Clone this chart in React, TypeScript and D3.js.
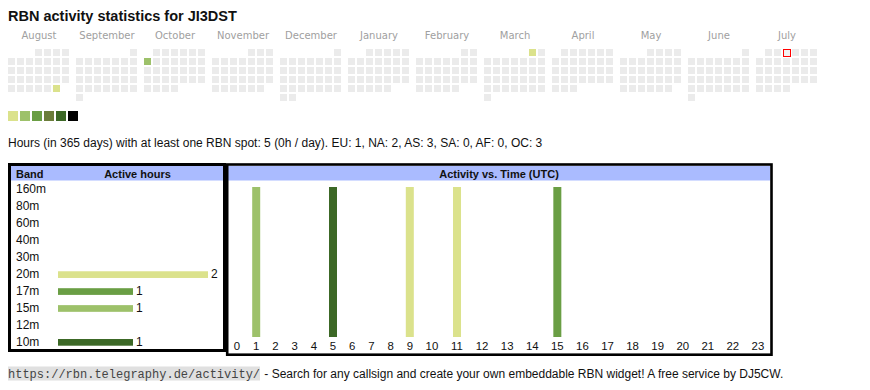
import React from "react";
import * as d3 from "d3";

const TITLE = "RBN activity statistics for JI3DST";
const MONTH_LABELS = ["August", "September", "October", "November", "December", "January", "February", "March", "April", "May", "June", "July"];
const CAL_START = "2024-08-01";
const TODAY = "2025-07-03";
const ACTIVE_DAYS = ["2024-08-31", "2024-10-07", "2025-03-01"];
const ACTIVE_LEVELS = [1, 2, 1];
const LEVEL_COLORS = ["#dbe28c", "#9dc16a", "#6a9e44", "#6b7d3a", "#3c6826", "#000000"];

const INFO = "Hours (in 365 days) with at least one RBN spot: 5 (0h / day). EU: 1, NA: 2, AS: 3, SA: 0, AF: 0, OC: 3";

const BANDS = ["160m", "80m", "60m", "40m", "30m", "20m", "17m", "15m", "12m", "10m"];
const BAND_HOURS = [0, 0, 0, 0, 0, 2, 1, 1, 0, 1];
const BAND_COLORS = ["#dbe28c", "#dbe28c", "#dbe28c", "#dbe28c", "#dbe28c", "#dbe28c", "#6a9e44", "#9dc16a", "#9dc16a", "#3c6826"];

const HOURS = d3.range(24);
const ACTIVE_HOURS = [1, 5, 9, 11, 15];
const ACTIVE_HOUR_BANDS = ["15m", "10m", "20m", "20m", "17m"];
const ACTIVE_HOUR_VALUES = [1, 1, 1, 1, 1];

const URL_TEXT = "https://rbn.telegraphy.de/activity/";
const FOOT_TEXT = " - Search for any callsign and create your own embeddable RBN widget! A free service by DJ5CW.";

const SANS = "'Liberation Sans', Arial, sans-serif";

export default function App() {
  const parse = d3.timeParse("%Y-%m-%d");
  const fmt = d3.timeFormat("%Y-%m-%d");
  const start = parse(CAL_START)!;
  const months = d3.timeMonth.range(start, d3.timeMonth.offset(start, 12));
  const levelByDay = new Map(ACTIVE_DAYS.map((d, i) => [d, ACTIVE_LEVELS[i]]));

  const monthX = d3.scaleLinear().domain([0, 1]).range([8, 76]);
  const cell = 9;
  const cells: React.ReactNode[] = [];
  months.forEach((m, mi) => {
    const firstDow = (m.getDay() + 6) % 7;
    const days = d3.timeDay.range(m, d3.timeMonth.offset(m, 1));
    days.forEach((day, di) => {
      const idx = di + firstDow;
      const col = idx % 7;
      const row = Math.floor(idx / 7);
      const key = fmt(day);
      const lvl = levelByDay.get(key);
      const x = monthX(mi) + col * cell;
      const y = 49 + row * cell;
      if (key === TODAY) {
        cells.push(<rect key={key} x={x + 0.5} y={y + 0.5} width={7} height={7} fill="#f2f2f2" stroke="#ff0000" strokeWidth={1} />);
      } else {
        cells.push(<rect key={key} x={x} y={y} width={7} height={7} fill={lvl ? LEVEL_COLORS[lvl - 1] : "#ebebeb"} />);
      }
    });
  });

  // left table
  const bandY = d3.scalePoint<string>().domain(BANDS).range([193.3, 345.7]);
  const barX = d3.scaleLinear().domain([0, 2]).range([58, 208]);

  // right table
  const hourX = d3.scaleLinear().domain([0, 10, 24]).range([227.4, 419.4, 770.5]);
  const hourY = d3.scaleLinear().domain([0, 1]).range([337, 187]);
  const bandColor = new Map(BANDS.map((b, i) => [b, BAND_COLORS[i]]));

  return (
    <svg width={870} height={390} style={{ position: "absolute", left: 0, top: 0, background: "#fff" }} fontFamily={SANS}>
      <text x={8} y={20.5} fontSize={14.5} fontWeight="bold" fill="#111">{TITLE}</text>
      {MONTH_LABELS.map((l, i) => (
        <text key={l} x={monthX(i) + 31} y={39} fontSize={10} fill="#a0a0a0" textAnchor="middle" fontFamily="'DejaVu Sans', Verdana, sans-serif">{l}</text>
      ))}
      {cells}
      {LEVEL_COLORS.map((c, i) => (
        <rect key={c} x={8 + i * 12} y={111} width={10} height={10} fill={c} />
      ))}
      <text x={8} y={147} fontSize={12} fill="#111">{INFO}</text>

      {/* left box */}
      <rect x={11} y={166} width={212} height={14.5} fill="#aabbff" />
      <rect x={9.5} y={164.5} width={215} height={186} fill="none" stroke="#000" strokeWidth={3} />
      <text x={16} y={177.5} fontSize={11} fontWeight="bold" fill="#111">Band</text>
      <text x={137.5} y={177.5} fontSize={11} fontWeight="bold" fill="#111" textAnchor="middle">Active hours</text>
      {BANDS.map((b, i) => (
        <g key={b}>
          <text x={16} y={bandY(b)} fontSize={12} fill="#111">{b}</text>
          {BAND_HOURS[i] > 0 && (
            <>
              <rect x={barX(0)} y={bandY(b)! - 6.7} width={barX(BAND_HOURS[i]) - barX(0)} height={6.7} fill={BAND_COLORS[i]} />
              <text x={barX(BAND_HOURS[i]) + 3} y={bandY(b)} fontSize={12} fill="#111">{BAND_HOURS[i]}</text>
            </>
          )}
        </g>
      ))}

      {/* right box */}
      <rect x={228} y={166} width={542.5} height={14.5} fill="#aabbff" />
      <rect x={227.2} y={164.5} width={544.3} height={190.2} fill="none" stroke="#000" strokeWidth={2.6} />
      <text x={499} y={177.5} fontSize={11} fontWeight="bold" fill="#111" textAnchor="middle">Activity vs. Time (UTC)</text>
      {ACTIVE_HOURS.map((h, i) => (
        <rect key={h} x={hourX(h + 0.5) - 4} y={hourY(ACTIVE_HOUR_VALUES[i])} width={8} height={hourY(0) - hourY(ACTIVE_HOUR_VALUES[i])} fill={bandColor.get(ACTIVE_HOUR_BANDS[i])} />
      ))}
      {HOURS.map((h) => (
        <text key={h} x={hourX(h + 0.5)} y={349.5} fontSize={11.4} fill="#111" textAnchor="middle">{h}</text>
      ))}

      {/* footer */}
      <rect x={8} y={366.5} width={252} height={14} fill="#e0e0e0" />
      <text x={8} y={377.5} fontSize={12} fill="#444" fontFamily="'Liberation Mono', 'Courier New', monospace">{URL_TEXT}</text>
      <text x={261} y={377.5} fontSize={12} fill="#111" style={{ whiteSpace: "pre" }}>{FOOT_TEXT}</text>
    </svg>
  );
}
